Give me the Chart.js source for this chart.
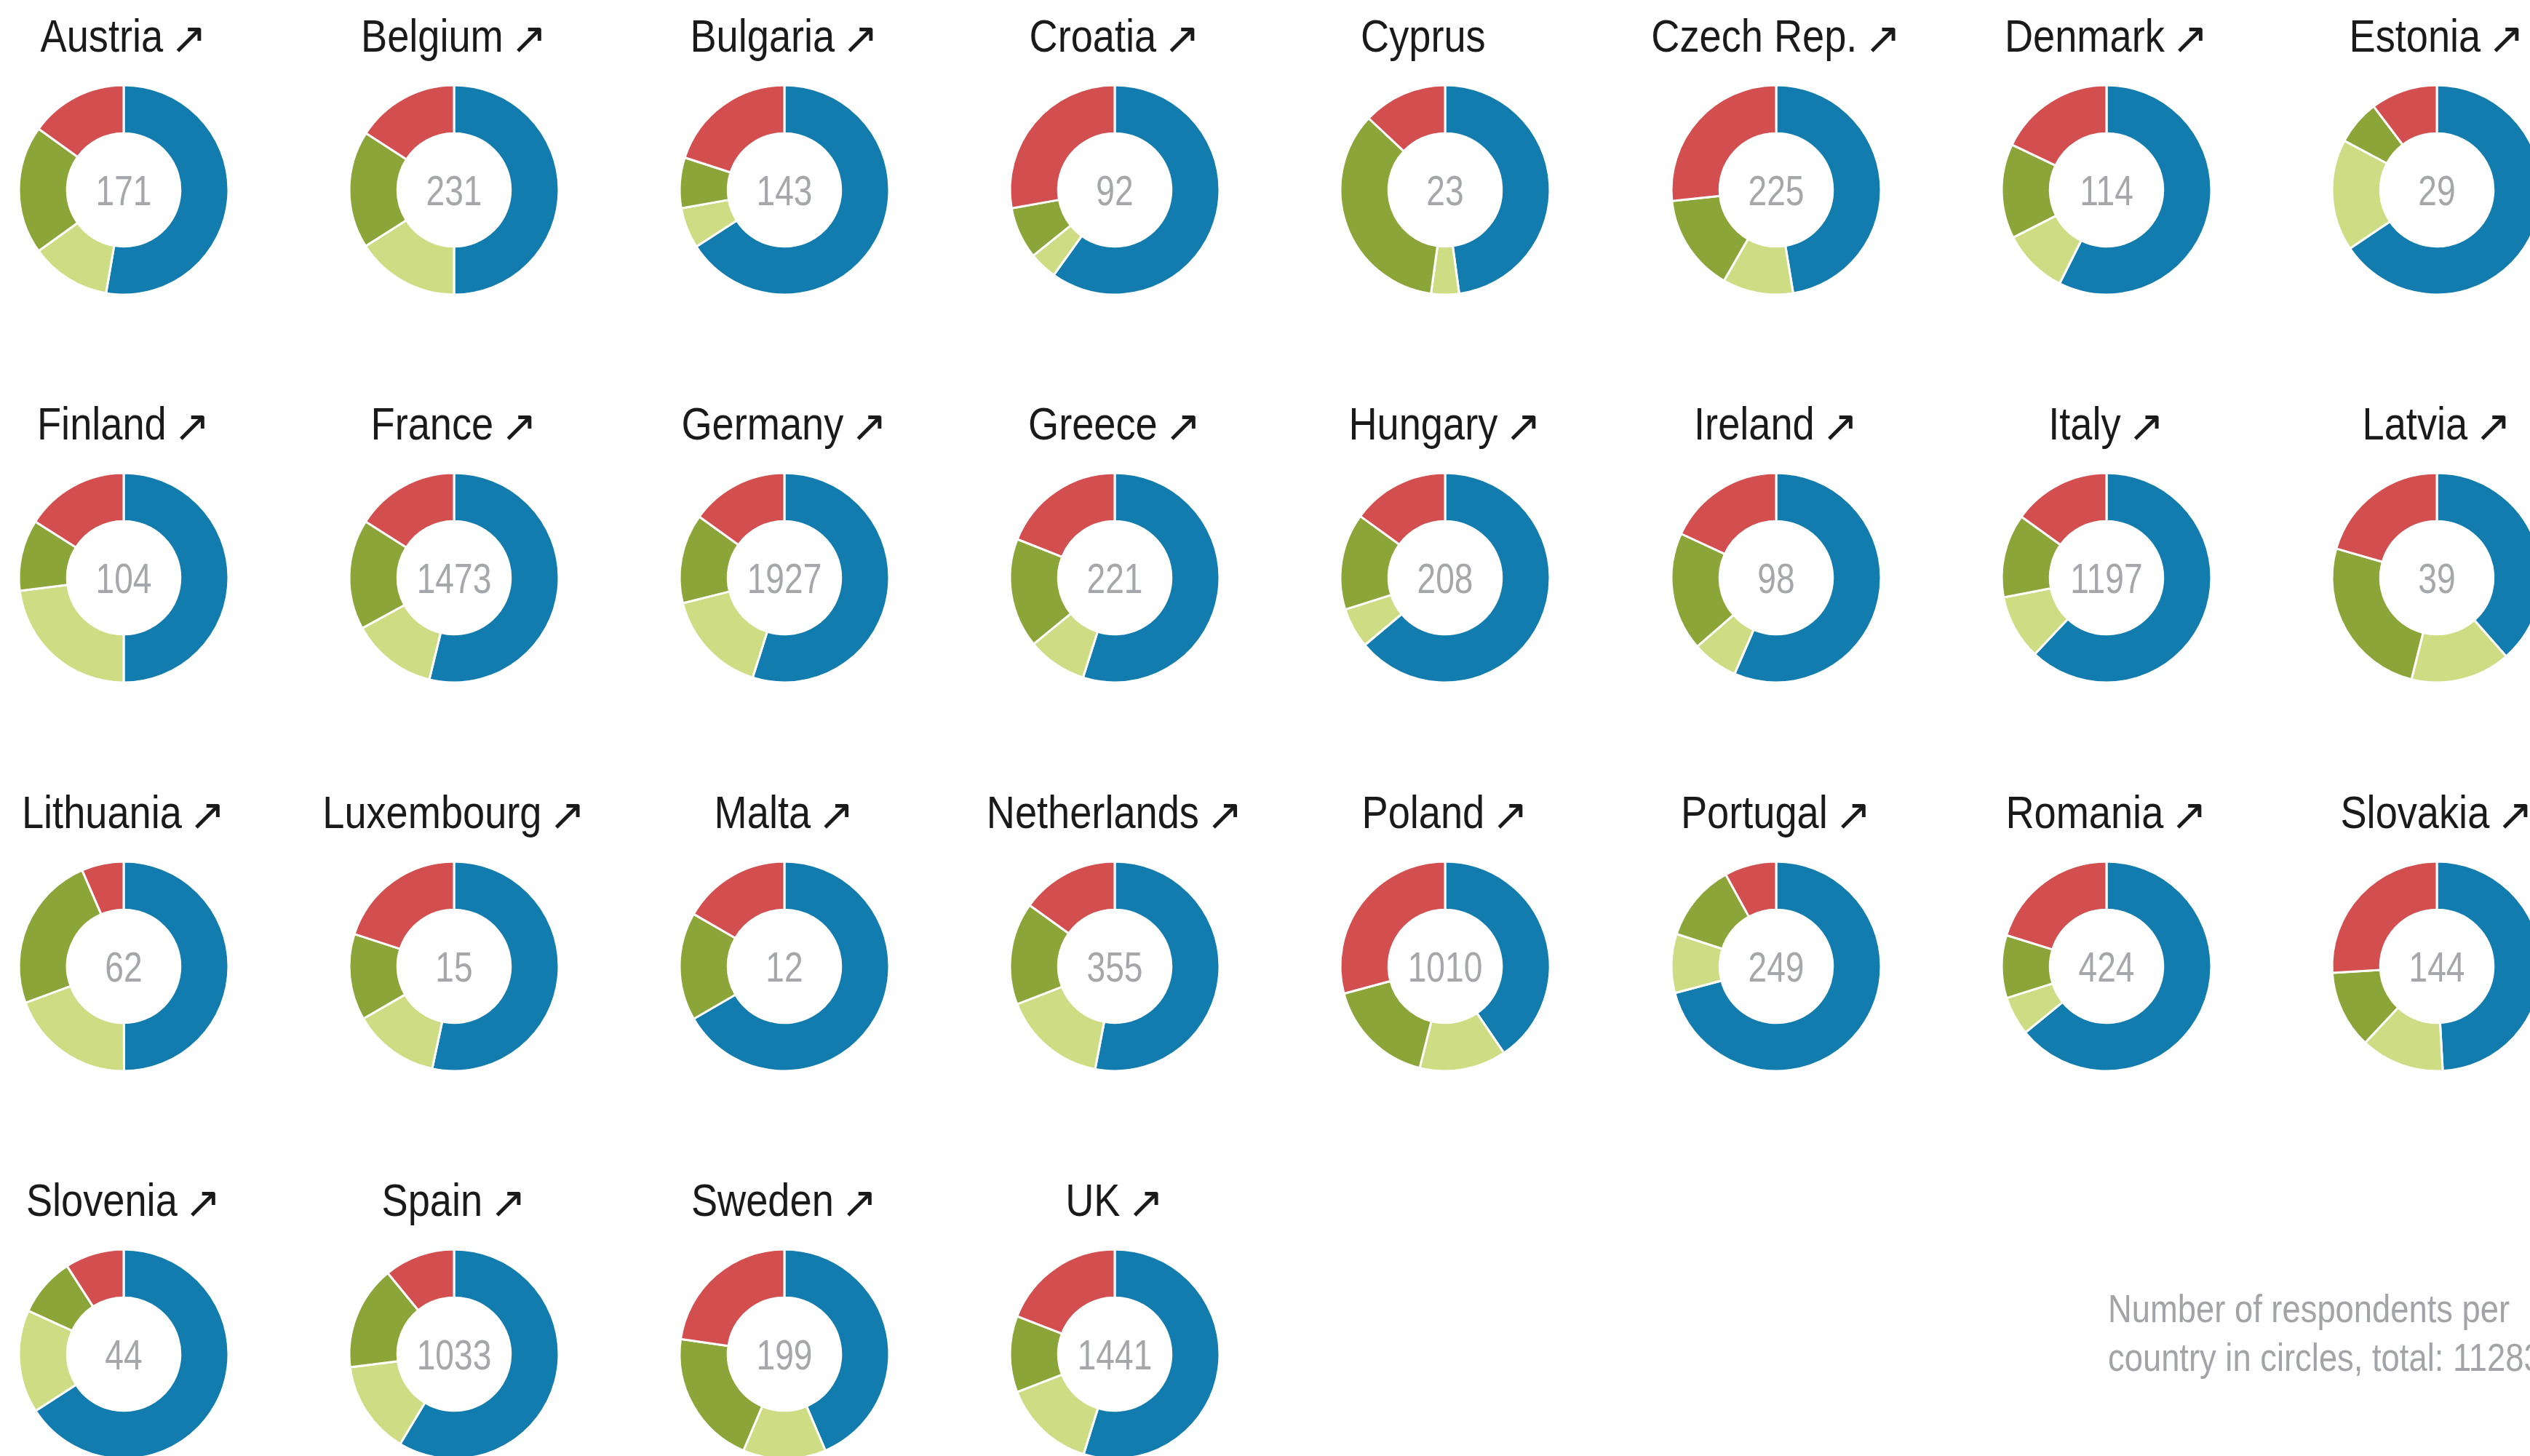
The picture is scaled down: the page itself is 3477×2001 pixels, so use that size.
<!DOCTYPE html>
<html>
<head>
<meta charset="utf-8">
<script src="https://cdn.jsdelivr.net/npm/chart.js@4.4.1/dist/chart.umd.min.js"></script>
<style>
  html, body { margin: 0; padding: 0; background: #fff; overflow: hidden; }
  body { width: 3477px; height: 2001px; position: relative; }
  .cell { position: absolute; width: 454px; height: 406px; }
  .note {
    position: absolute; left: 2897px; top: 1765px;
    font-family: 'Liberation Sans', Arial, sans-serif;
    font-size: 54px; line-height: 67px; color: #a3a4a8; white-space: nowrap;
    transform: scaleX(0.84); transform-origin: 0 0;
  }
</style>
</head>
<body>
<div class="note">Number of respondents per<br>country in circles, total: 11283</div>
<script>
// --- Data (shares in %) ---
const countries = ['Austria', 'Belgium', 'Bulgaria', 'Croatia', 'Cyprus', 'Czech Rep.', 'Denmark', 'Estonia',
  'Finland', 'France', 'Germany', 'Greece', 'Hungary', 'Ireland', 'Italy', 'Latvia',
  'Lithuania', 'Luxembourg', 'Malta', 'Netherlands', 'Poland', 'Portugal', 'Romania', 'Slovakia',
  'Slovenia', 'Spain', 'Sweden', 'UK'];
const trendUp = [true, true, true, true, false, true, true, true,
  true, true, true, true, true, true, true, true,
  true, true, true, true, true, true, true, true,
  true, true, true, true];
const respondents = [171, 231, 143, 92, 23, 225, 114, 29,
  104, 1473, 1927, 221, 208, 98, 1197, 39,
  62, 15, 12, 355, 1010, 249, 424, 144,
  44, 1033, 199, 1441];
const blueShare = [52.7, 50.0, 65.9, 59.9, 47.8, 47.4, 57.4, 65.5,
  50.0, 53.8, 54.9, 54.9, 63.9, 56.5, 62.0, 38.5,
  50.0, 53.3, 66.7, 53.0, 40.5, 70.9, 64.1, 49.1,
  65.9, 58.6, 43.6, 54.8];
const lightGreenShare = [12.4, 16.0, 6.3, 4.3, 4.3, 10.9, 10.1, 17.2,
  23.0, 13.2, 16.2, 9.2, 6.2, 7.1, 10.0, 15.4,
  19.4, 13.3, 0, 16.1, 13.4, 9.1, 6.0, 12.9,
  15.9, 14.4, 12.8, 14.3];
const oliveShare = [19.8, 18.1, 7.8, 8.0, 34.8, 15.0, 14.6, 6.9,
  11.0, 17.0, 13.8, 16.9, 14.9, 18.3, 12.9, 25.6,
  24.2, 13.3, 16.7, 15.8, 16.9, 12.0, 9.7, 12.0,
  9.1, 16.1, 20.9, 11.8];
const redShare = [15.1, 15.9, 20.0, 27.8, 13.0, 26.7, 17.9, 10.3,
  16.0, 16.0, 15.1, 19.0, 15.0, 18.1, 15.1, 20.5,
  6.5, 20.0, 16.7, 15.1, 29.2, 8.0, 20.2, 26.0,
  9.1, 10.9, 22.7, 19.1];

const segmentColors = ['#127caf', '#cedd83', '#8ba538', '#d34e4f'];
const textFont = "'Liberation Sans', Arial, sans-serif";
const arrowFont = "60px 'DejaVu Sans', sans-serif";
const TITLE_SQUEEZE = 0.86;   // no condensed face installed, so squeeze horizontally
const NUMBER_SQUEEZE = 0.81;
const ARROW_GAP = 10;
const TITLE_BASELINE = 71;    // from the top of each cell

// grid of small multiples
const COLS = 8;
const COL_W = 454.1;
const ROW_H = 533.3;
const FIRST_X = 170;
const FIRST_Y = 260.7;

function drawSqueezed(ctx, text, x, y, sx) {
  ctx.save();
  ctx.translate(x, y);
  ctx.scale(sx, 1);
  ctx.fillText(text, 0, 0);
  ctx.restore();
}

// country name above, respondents in the hole
const labelPlugin = {
  id: 'labels',
  afterDraw(chart, args, opts) {
    const arc = chart.getDatasetMeta(0).data[0];
    if (!arc) return;
    const ctx = chart.ctx;
    ctx.save();
    ctx.textBaseline = 'alphabetic';
    ctx.textAlign = 'left';

    ctx.font = '63px ' + textFont;
    const nameW = ctx.measureText(opts.name).width * TITLE_SQUEEZE;
    ctx.font = arrowFont;
    const arrowW = ctx.measureText('\u2197').width;
    // the arrow's room is kept even where it is not shown (as in the source)
    const x = arc.x - (nameW + ARROW_GAP + arrowW) / 2;
    ctx.fillStyle = '#1a1a1a';
    ctx.font = '63px ' + textFont;
    drawSqueezed(ctx, opts.name, x, TITLE_BASELINE, TITLE_SQUEEZE);
    if (opts.arrow) {
      ctx.font = arrowFont;
      ctx.fillText('\u2197', x + nameW + ARROW_GAP, TITLE_BASELINE + 2);
    }

    ctx.font = '57px ' + textFont;
    ctx.fillStyle = '#a6a7ab';
    const numW = ctx.measureText(opts.count).width * NUMBER_SQUEEZE;
    drawSqueezed(ctx, opts.count, arc.x - numW / 2, arc.y + 20.5, NUMBER_SQUEEZE);
    ctx.restore();
  }
};

countries.forEach((name, i) => {
  const col = i % COLS;
  const row = Math.floor(i / COLS);
  const cell = document.createElement('div');
  cell.className = 'cell';
  cell.style.left = (FIRST_X + col * COL_W - 227) + 'px';
  cell.style.top = (FIRST_Y + row * ROW_H - 260.7) + 'px';
  const canvas = document.createElement('canvas');
  canvas.width = 454;
  canvas.height = 406;
  cell.appendChild(canvas);
  document.body.appendChild(cell);

  new Chart(canvas, {
    type: 'doughnut',
    data: {
      labels: ['A', 'B', 'C', 'D'],
      datasets: [{
        data: [blueShare[i], lightGreenShare[i], oliveShare[i], redShare[i]],
        backgroundColor: segmentColors,
        borderColor: '#ffffff',
        borderWidth: 3
      }]
    },
    options: {
      responsive: false,
      animation: false,
      radius: 144,
      cutout: '54%',
      layout: { padding: { top: 116, left: 0, right: 0, bottom: 0 } },
      events: [],
      plugins: {
        legend: { display: false },
        tooltip: { enabled: false },
        title: { display: false },
        labels: { name: name, arrow: trendUp[i], count: String(respondents[i]) }
      }
    },
    plugins: [labelPlugin]
  });
});
</script>
</body>
</html>
